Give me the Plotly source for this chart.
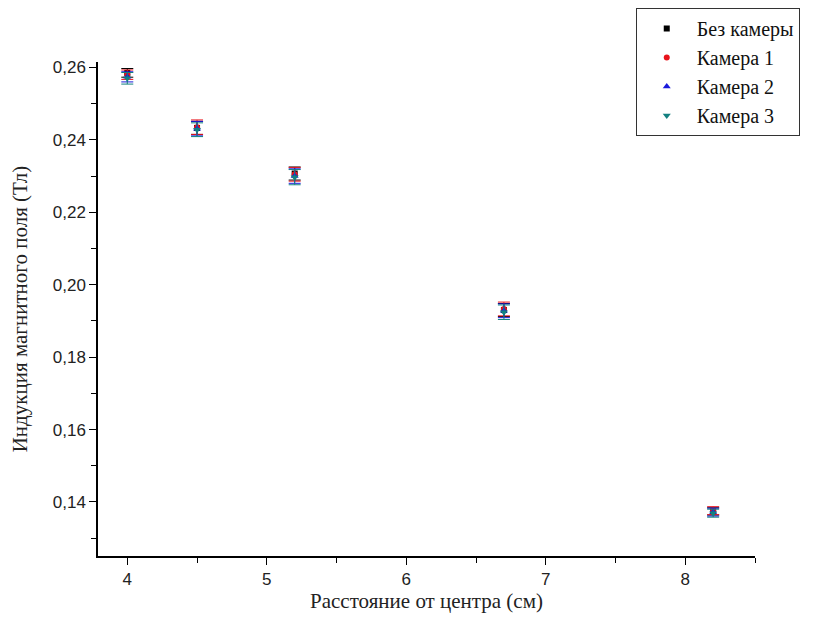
import plotly.graph_objects as go

x = [4.0, 4.5, 5.2, 6.7, 8.2]
series_names = ["Без камеры", "Камера 1", "Камера 2", "Камера 3"]
y_none = [0.2585, 0.2433, 0.2307, 0.1930, 0.1374]
y_cam1 = [0.2580, 0.2435, 0.2305, 0.1933, 0.1376]
y_cam2 = [0.2574, 0.2431, 0.2300, 0.1928, 0.1372]
y_cam3 = [0.2570, 0.2428, 0.2297, 0.1924, 0.1369]
err_none = [0.0012, 0.0018, 0.0018, 0.0018, 0.0010]
err_cam1 = [0.0013, 0.0020, 0.0019, 0.0019, 0.0011]
err_cam2 = [0.0014, 0.0020, 0.0020, 0.0019, 0.0011]
err_cam3 = [0.0016, 0.0019, 0.0021, 0.0020, 0.0011]

ys = [y_none, y_cam1, y_cam2, y_cam3]
errs = [err_none, err_cam1, err_cam2, err_cam3]
colors = ["#000000", "#e8141b", "#1a1adc", "#138080"]
symbols = ["square", "circle", "triangle-up", "triangle-down"]
sizes = [6, 6, 7, 7]

SERIF = "Liberation Serif, Times New Roman, serif"
SANS = "Liberation Sans, Arial, sans-serif"

fig = go.Figure()
for name, y, e, c, s, sz in zip(series_names, ys, errs, colors, symbols, sizes):
    fig.add_trace(go.Scatter(
        x=x, y=y, mode="markers", name=name,
        marker=dict(symbol=s, color=c, size=sz, line=dict(width=0)),
        error_y=dict(type="data", array=e, visible=True, color=c,
                     thickness=1, width=6),
    ))

fig.update_layout(
    width=810, height=625,
    margin=dict(l=90, r=63, t=54, b=77, autoexpand=False),
    paper_bgcolor="white", plot_bgcolor="white",
    separators=", ",
    showlegend=True,
    legend=dict(
        xref="container", yref="container",
        x=0.775, y=1.0, xanchor="left", yanchor="top",
        bordercolor="#333333", borderwidth=1, bgcolor="white",
        font=dict(family=SERIF, size=20, color="#111111"),
        itemwidth=50, tracegroupgap=0,
    ),
    xaxis=dict(
        range=[3.79, 8.5], showgrid=False, zeroline=False,
        showline=True, linecolor="#000000", linewidth=1.5,
        ticks="outside", ticklen=7, tickwidth=1.2, tickcolor="#000000",
        tickmode="array", tickvals=[4, 5, 6, 7, 8],
        minor=dict(ticks="outside", ticklen=5, tickwidth=1.2, tickcolor="#000000",
                   tickvals=[4.5, 5.5, 6.5, 7.5, 8.5]),
        tickfont=dict(family=SANS, size=17, color="#222222"),
        title=dict(text="Расстояние от центра (см)", standoff=3,
                   font=dict(family=SERIF, size=21, color="#222222")),
    ),
    yaxis=dict(
        range=[0.12508, 0.2615], showgrid=False, zeroline=False,
        showline=True, linecolor="#000000", linewidth=1.5,
        ticks="outside", ticklen=7, tickwidth=1.2, tickcolor="#000000",
        tickmode="array",
        tickvals=[0.14, 0.16, 0.18, 0.20, 0.22, 0.24, 0.26],
        ticktext=["0,14", "0,16", "0,18", "0,20", "0,22", "0,24", "0,26"],
        minor=dict(ticks="outside", ticklen=5, tickwidth=1.2, tickcolor="#000000",
                   tickvals=[0.13, 0.15, 0.17, 0.19, 0.21, 0.23, 0.25]),
        tickfont=dict(family=SANS, size=17, color="#222222"),
        title=dict(text="Индукция магнитного поля (Тл)", standoff=22,
                   font=dict(family=SERIF, size=21, color="#222222")),
    ),
)

fig.write_html("out.html")
